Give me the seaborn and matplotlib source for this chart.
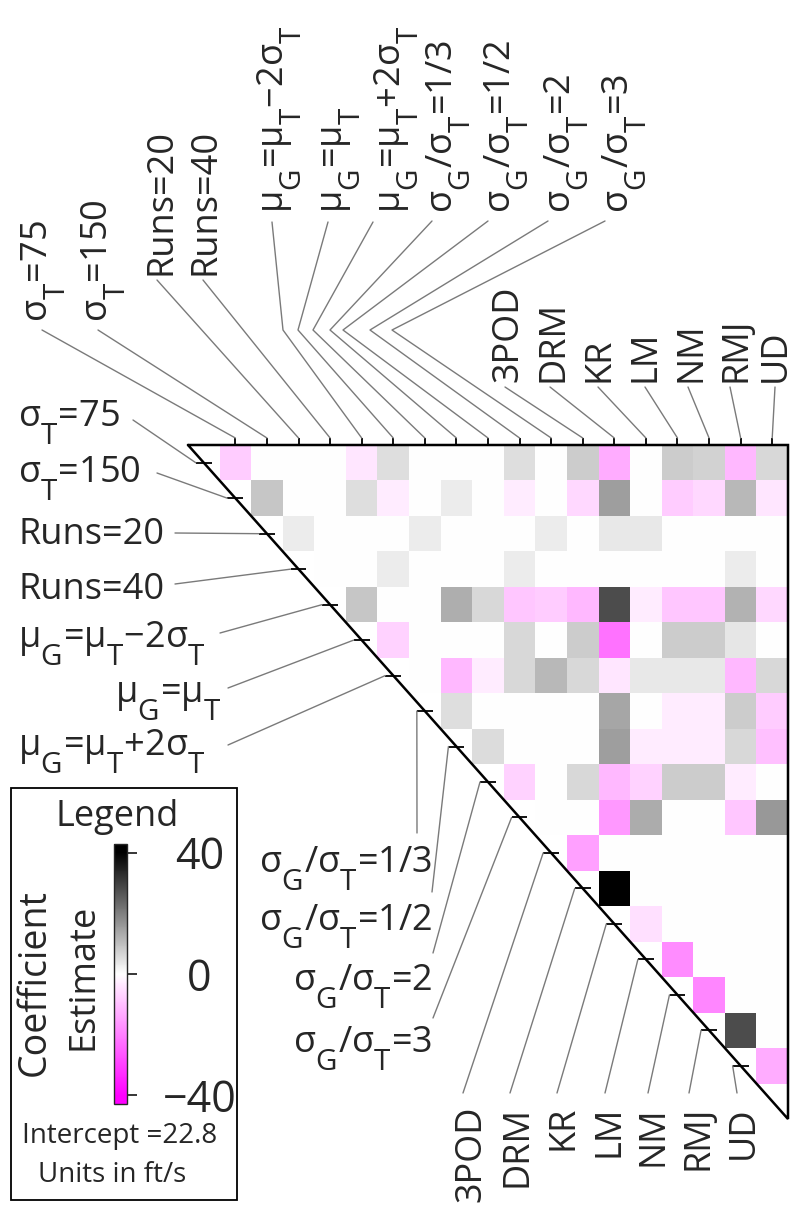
import numpy as np
import pandas as pd
import matplotlib.pyplot as plt
import seaborn as sns
from matplotlib.colors import LinearSegmentedColormap
from matplotlib.patches import Rectangle

## factor names, same order on top and on the diagonal
factors = [r'$\sigma_T$=75', r'$\sigma_T$=150', 'Runs=20', 'Runs=40',
           r'$\mu_G$=$\mu_T$−2$\sigma_T$', r'$\mu_G$=$\mu_T$', r'$\mu_G$=$\mu_T$+2$\sigma_T$',
           r'$\sigma_G$/$\sigma_T$=1/3', r'$\sigma_G$/$\sigma_T$=1/2',
           r'$\sigma_G$/$\sigma_T$=2', r'$\sigma_G$/$\sigma_T$=3',
           '3POD', 'DRM', 'KR', 'LM', 'NM', 'RMJ', 'UD']

## coefficient estimates (ft/s), each row starts at the diagonal
row_sT75 = [-8, 0, 0, 0, -4, 5, 0, 0, 0, 5, 0, 8, -13, 0, 8, 7, -11, 6]
row_sT150 = [9, 0, 0, 5, -3, 0, 3, 0, -3, 0, -6, 15, 0, -8, -6, 11, -4]
row_runs20 = [3, 0, 0, 0, 3, 0, 0, 0, 3, 0, 3.5, 3.5, 0, 0, 0, 0]
row_runs40 = [0, 0, 3, 0, 0, 0, 3, 0, 0, 0, 0, 0, 0, 3, 0]
row_mu_lo = [9, 0, 0, 12.5, 6, -9, -8, -11, 28, -3, -9, -9, 12, -6]
row_mu_eq = [-7, 0, 0, 0, 6, 0, 8, -22, 0, 8, 8, 4, 0]
row_mu_hi = [0, -11, -3, 6, 11, 6, -4, 3.5, 3.5, 3.5, -11, 6]
row_sg13 = [5, 0, 0, 0, 0, 14, 0, -3, -3, 8, -8]
row_sg12 = [5.5, 0, 0, 0, 15, -3, -3, -3, 6, -10]
row_sg2 = [-7, 0, 6, -11, -7, 8, 8, -3, 0]
row_sg3 = [0, 0, -16, 13, 0, 0, -9, 16]
row_3pod = [-15, 0, 0, 0, 0, 0, 0]
row_drm = [40, 0, 0, 0, 0, 0]
row_kr = [-5, 0, 0, 0, 0]
row_lm = [-18, 0, 0, 0]
row_nm = [-19, 0, 0]
row_rmj = [28, 0]
row_ud = [-13]

rows = [row_sT75, row_sT150, row_runs20, row_runs40, row_mu_lo, row_mu_eq, row_mu_hi,
        row_sg13, row_sg12, row_sg2, row_sg3, row_3pod, row_drm, row_kr, row_lm,
        row_nm, row_rmj, row_ud]

n = len(factors)
coef = np.zeros((n, n))
for i, r in enumerate(rows):
    coef[i, i:] = r
df = pd.DataFrame(coef)
mask = np.tril(np.ones((n, n), dtype=bool), k=-1)

sns.set_style('white')
plt.rcParams['font.family'] = ['Open Sans', 'DejaVu Sans']
plt.rcParams['mathtext.fontset'] = 'custom'
plt.rcParams['mathtext.rm'] = 'Open Sans'
plt.rcParams['mathtext.it'] = 'Open Sans'
plt.rcParams['mathtext.default'] = 'regular'

# bigger, lower subscripts like the original figure
try:
    import matplotlib._mathtext as mt
    mt.SHRINK_FACTOR = 0.82
    mt.FontConstantsBase.sub1 = 0.9
    mt.FontConstantsBase.subdrop = 0.9
except Exception:
    pass

W, H = 794, 1205
X0, X1, Y0, Y1 = 188, 788, 445, 1119
CW = (X1 - X0) / (n + 1)
RH = (Y1 - Y0) / (n + 1)
FS = 26
LEAD = dict(color='#7a7a7a', lw=1.0)


def fbox(x0, y0, x1, y1):
    return [x0 / W, 1 - y1 / H, (x1 - x0) / W, (y1 - y0) / H]


fig = plt.figure(figsize=(W / 100, H / 100), dpi=100)

cmap = LinearSegmentedColormap.from_list('mwk', ['#ff00ff', '#ffffff', '#000000'])

ax = fig.add_axes(fbox(X0, Y0, X1, Y1))
sns.heatmap(df, mask=mask, cmap=cmap, vmin=-40, vmax=40, cbar=False, ax=ax,
            xticklabels=False, yticklabels=False)
ax.patch.set_visible(False)
ax.set_xlim(-1, n)
ax.set_ylim(n + 1, 0)
for s in ax.spines.values():
    s.set_visible(False)
ax.plot([-1, n, n, -1], [0, 0, n + 1, 0], color='black', lw=1.8, clip_on=False,
        solid_joinstyle='miter')
ax.set_xticks(np.arange(n) + 0.5)
ax.set_xticklabels([])
ax.xaxis.set_ticks_position('top')
ax.tick_params(axis='x', direction='inout', length=10, width=1.3, color='black')
ax.set_yticks([])
idx = np.arange(n)
ax.hlines(idx + 0.5, idx - 0.75, idx - 0.25, color='black', lw=1.3, clip_on=False)

## overlay in pixel coordinates for labels and leader lines
lay = fig.add_axes([0, 0, 1, 1])
lay.set_xlim(0, W)
lay.set_ylim(H, 0)
lay.axis('off')

# top labels: anchor = baseline x, start y (text reads upward)
top_anchor = [(47, 322), (107, 322), (170, 275), (215, 275), (283, 213), (342, 213),
              (400, 213), (452, 213), (510, 213), (570, 213), (628, 213),
              (517, 382), (563, 382), (608, 382), (655, 382), (700, 382), (745, 382),
              (785, 382)]
top_lead = [[(42, 330)], [(98, 330)], [(157, 280)], [(203, 280)],
            [(272, 222), (283, 330)], [(328, 222), (298, 330)], [(373, 222), (313, 330)],
            [(432, 221), (330, 330)], [(488, 221), (343, 330)], [(548, 221), (370, 330)],
            [(605, 221), (392, 330)],
            [(505, 387)], [(550, 387)], [(598, 387)], [(645, 387)], [(688, 387)],
            [(730, 387)], [(775, 387)]]
for j in range(n):
    bx, by = top_anchor[j]
    lay.text(bx, by, factors[j], rotation=90, rotation_mode='anchor', ha='left',
             va='baseline', fontsize=FS)
    pts = top_lead[j] + [(X0 + (j + 1.5) * CW, Y0 - 7)]
    lay.plot([p[0] for p in pts], [p[1] for p in pts], **LEAD)

# diagonal labels
side_anchor = [(18, 426, 'left'), (18, 482, 'left'), (18, 544, 'left'), (18, 599, 'left'),
               (18, 647, 'left'), (222, 702, 'right'), (18, 755, 'left'),
               (432, 872, 'right'), (432, 930, 'right'), (432, 990, 'right'),
               (432, 1052, 'right')]
bottom_anchor = [(480, 1106), (527, 1106), (572, 1106), (618, 1106), (663, 1106),
                 (708, 1106), (753, 1106)]
side_lead = [(133, 420), (157, 473), (175, 533), (175, 584), (220, 633), (220, 688),
             (228, 745), (417, 833), (432, 892), (433, 953), (433, 1018),
             (463, 1093), (510, 1093), (557, 1093), (605, 1093), (648, 1093),
             (689, 1093), (737, 1093)]
side_texts = []
for i in range(n):
    if i < len(side_anchor):
        sx, sy, ha = side_anchor[i]
        side_texts.append(lay.text(sx, sy, factors[i], ha=ha, va='baseline', fontsize=FS))
    else:
        bx, by = bottom_anchor[i - len(side_anchor)]
        lay.text(bx, by, factors[i], rotation=90, rotation_mode='anchor', ha='right',
                 va='baseline', fontsize=FS)

# leader lines start just right of the horizontal labels
fig.canvas.draw()
inv = lay.transData.inverted()
for i in range(n):
    tx = X0 + (i + 0.5) * CW - 8
    ty = Y0 + (i + 0.5) * RH
    sx, sy = side_lead[i]
    if i < 7:
        bb = side_texts[i].get_window_extent()
        right = inv.transform((bb.x1, bb.y0))[0]
        sx = max(sx, right + 6)
    lay.plot([sx, tx], [sy, ty], **LEAD)

## legend box
lay.add_patch(Rectangle((11, 788), 226, 412, fill=False, ec='black', lw=1.3))
lay.text(117, 826, 'Legend', ha='center', va='baseline', fontsize=FS)
lay.text(35, 983, 'Coefficient', rotation=90, ha='center', va='center', fontsize=27)
lay.text(83, 977, 'Estimate', rotation=90, ha='center', va='center', fontsize=26)
lay.text(120, 1143, 'Intercept =22.8', ha='center', va='baseline', fontsize=20)
lay.text(112, 1182, 'Units in ft/s', ha='center', va='baseline', fontsize=20)

cax = fig.add_axes(fbox(114, 844, 127, 1104))
cbar = fig.colorbar(ax.collections[0], cax=cax, extend='both', extendrect=True,
                    extendfrac=0.035)
cbar.set_ticks([-40, 0, 40])
cbar.set_ticklabels(['−40', '0', '40'])
cbar.outline.set_linewidth(1.0)
cax.tick_params(direction='out', length=7, width=1.3, pad=45, labelsize=31)
for t in cax.get_yticklabels():
    t.set_ha('center')

plt.savefig('out.png', dpi=100)
